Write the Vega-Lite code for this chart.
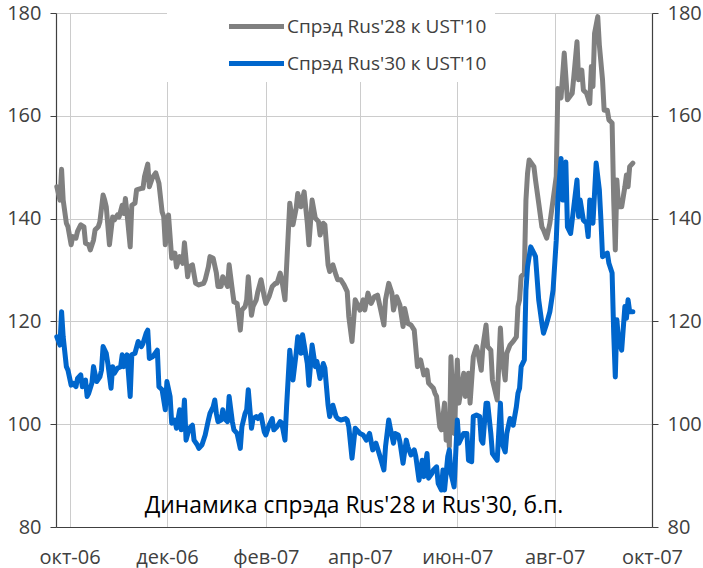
{
  "$schema": "https://vega.github.io/schema/vega-lite/v6.json",
  "width": 596,
  "height": 514,
  "autosize": {"type": "none"},
  "padding": {"left": 56, "top": 13, "right": 51, "bottom": 41},
  "background": "white",
  "config": {"view": {"stroke": null}, "font": "Open Sans"},
  "title": {"text": "Динамика спрэда Rus'28 и Rus'30, б.п.", "orient": "bottom", "anchor": "middle", "fontSize": 22.8, "fontWeight": "normal", "color": "#000000", "font": "Open Sans", "offset": 0, "dy": -72},
  "datasets": {
    "r28": [
      {"date": "2006-09-23", "v": 146.2}, {"date": "2006-09-25", "v": 143.6}, {"date": "2006-09-26", "v": 149.6}, {"date": "2006-09-27", "v": 143.6},
      {"date": "2006-09-29", "v": 139.1}, {"date": "2006-09-30", "v": 138.4}, {"date": "2006-10-02", "v": 134.9}, {"date": "2006-10-03", "v": 136.5},
      {"date": "2006-10-05", "v": 136.2}, {"date": "2006-10-06", "v": 137.5}, {"date": "2006-10-08", "v": 138.8}, {"date": "2006-10-10", "v": 138.4},
      {"date": "2006-10-11", "v": 135.2}, {"date": "2006-10-13", "v": 134.9}, {"date": "2006-10-14", "v": 133.9}, {"date": "2006-10-16", "v": 135.8},
      {"date": "2006-10-17", "v": 137.8}, {"date": "2006-10-19", "v": 138.4}, {"date": "2006-10-20", "v": 139.4}, {"date": "2006-10-22", "v": 144.6},
      {"date": "2006-10-23", "v": 143.6}, {"date": "2006-10-24", "v": 142.3}, {"date": "2006-10-26", "v": 134.9}, {"date": "2006-10-28", "v": 140.3},
      {"date": "2006-10-29", "v": 139.7}, {"date": "2006-10-31", "v": 140.7}, {"date": "2006-11-01", "v": 140.3}, {"date": "2006-11-03", "v": 142.6},
      {"date": "2006-11-04", "v": 141.0}, {"date": "2006-11-05", "v": 143.9}, {"date": "2006-11-06", "v": 141.0}, {"date": "2006-11-08", "v": 134.5},
      {"date": "2006-11-09", "v": 142.6}, {"date": "2006-11-11", "v": 143.0}, {"date": "2006-11-12", "v": 145.6}, {"date": "2006-11-15", "v": 145.9},
      {"date": "2006-11-16", "v": 145.9}, {"date": "2006-11-17", "v": 148.2}, {"date": "2006-11-19", "v": 150.6}, {"date": "2006-11-20", "v": 146.2},
      {"date": "2006-11-22", "v": 148.0}, {"date": "2006-11-24", "v": 148.9}, {"date": "2006-11-26", "v": 146.9}, {"date": "2006-11-28", "v": 141.3},
      {"date": "2006-11-29", "v": 140.4}, {"date": "2006-11-30", "v": 134.9}, {"date": "2006-12-02", "v": 140.7}, {"date": "2006-12-04", "v": 132.3},
      {"date": "2006-12-06", "v": 133.3}, {"date": "2006-12-07", "v": 130.6}, {"date": "2006-12-09", "v": 132.6}, {"date": "2006-12-11", "v": 131.3},
      {"date": "2006-12-12", "v": 135.3}, {"date": "2006-12-14", "v": 128.7}, {"date": "2006-12-15", "v": 130.6}, {"date": "2006-12-17", "v": 131.0},
      {"date": "2006-12-19", "v": 127.4}, {"date": "2006-12-21", "v": 127.1}, {"date": "2006-12-24", "v": 127.4}, {"date": "2006-12-25", "v": 128.1},
      {"date": "2006-12-27", "v": 130.6}, {"date": "2006-12-28", "v": 132.6}, {"date": "2006-12-30", "v": 132.3}, {"date": "2007-01-01", "v": 129.4},
      {"date": "2007-01-02", "v": 126.8}, {"date": "2007-01-04", "v": 126.8}, {"date": "2007-01-05", "v": 128.7}, {"date": "2007-01-06", "v": 128.1},
      {"date": "2007-01-08", "v": 126.8}, {"date": "2007-01-09", "v": 131.0}, {"date": "2007-01-11", "v": 126.1}, {"date": "2007-01-12", "v": 123.8},
      {"date": "2007-01-14", "v": 123.5}, {"date": "2007-01-16", "v": 118.3}, {"date": "2007-01-17", "v": 122.2}, {"date": "2007-01-19", "v": 122.9},
      {"date": "2007-01-20", "v": 124.2}, {"date": "2007-01-21", "v": 128.7}, {"date": "2007-01-23", "v": 121.2}, {"date": "2007-01-24", "v": 122.9},
      {"date": "2007-01-26", "v": 124.2}, {"date": "2007-01-27", "v": 125.8}, {"date": "2007-01-29", "v": 128.1}, {"date": "2007-01-31", "v": 124.8},
      {"date": "2007-02-01", "v": 123.5}, {"date": "2007-02-03", "v": 124.8}, {"date": "2007-02-05", "v": 126.8}, {"date": "2007-02-07", "v": 127.4},
      {"date": "2007-02-08", "v": 127.4}, {"date": "2007-02-10", "v": 129.4}, {"date": "2007-02-11", "v": 128.1}, {"date": "2007-02-13", "v": 124.2},
      {"date": "2007-02-14", "v": 130.6}, {"date": "2007-02-16", "v": 143.0}, {"date": "2007-02-18", "v": 138.8}, {"date": "2007-02-20", "v": 142.0},
      {"date": "2007-02-21", "v": 144.9}, {"date": "2007-02-23", "v": 142.3}, {"date": "2007-02-25", "v": 145.2}, {"date": "2007-02-27", "v": 139.1},
      {"date": "2007-02-28", "v": 134.9}, {"date": "2007-03-02", "v": 143.6}, {"date": "2007-03-04", "v": 140.1}, {"date": "2007-03-06", "v": 139.4},
      {"date": "2007-03-07", "v": 136.8}, {"date": "2007-03-09", "v": 139.1}, {"date": "2007-03-10", "v": 138.8}, {"date": "2007-03-12", "v": 131.0},
      {"date": "2007-03-13", "v": 129.7}, {"date": "2007-03-15", "v": 131.0}, {"date": "2007-03-17", "v": 129.0}, {"date": "2007-03-18", "v": 128.1},
      {"date": "2007-03-20", "v": 128.1}, {"date": "2007-03-22", "v": 127.1}, {"date": "2007-03-24", "v": 125.8}, {"date": "2007-03-25", "v": 120.9},
      {"date": "2007-03-27", "v": 116.1}, {"date": "2007-03-29", "v": 124.2}, {"date": "2007-04-01", "v": 122.2}, {"date": "2007-04-03", "v": 124.2},
      {"date": "2007-04-04", "v": 122.2}, {"date": "2007-04-06", "v": 125.5}, {"date": "2007-04-08", "v": 123.5}, {"date": "2007-04-10", "v": 124.8},
      {"date": "2007-04-12", "v": 125.1}, {"date": "2007-04-14", "v": 122.2}, {"date": "2007-04-16", "v": 119.3}, {"date": "2007-04-17", "v": 124.2},
      {"date": "2007-04-19", "v": 127.4}, {"date": "2007-04-21", "v": 125.5}, {"date": "2007-04-22", "v": 122.2}, {"date": "2007-04-24", "v": 124.8},
      {"date": "2007-04-26", "v": 123.2}, {"date": "2007-04-28", "v": 119.0}, {"date": "2007-04-29", "v": 122.5}, {"date": "2007-05-01", "v": 119.6},
      {"date": "2007-05-03", "v": 119.3}, {"date": "2007-05-05", "v": 118.3}, {"date": "2007-05-06", "v": 114.8}, {"date": "2007-05-07", "v": 111.2},
      {"date": "2007-05-09", "v": 112.5}, {"date": "2007-05-11", "v": 109.6}, {"date": "2007-05-13", "v": 110.5}, {"date": "2007-05-14", "v": 108.0},
      {"date": "2007-05-17", "v": 107.0}, {"date": "2007-05-18", "v": 106.0}, {"date": "2007-05-19", "v": 105.4}, {"date": "2007-05-21", "v": 99.5},
      {"date": "2007-05-22", "v": 98.9}, {"date": "2007-05-24", "v": 104.1}, {"date": "2007-05-25", "v": 96.9}, {"date": "2007-05-26", "v": 101.5},
      {"date": "2007-05-27", "v": 95.6}, {"date": "2007-05-28", "v": 113.1}, {"date": "2007-05-30", "v": 98.2}, {"date": "2007-06-01", "v": 112.5},
      {"date": "2007-06-02", "v": 104.1}, {"date": "2007-06-04", "v": 108.0}, {"date": "2007-06-05", "v": 109.9}, {"date": "2007-06-06", "v": 105.4},
      {"date": "2007-06-08", "v": 109.9}, {"date": "2007-06-09", "v": 104.1}, {"date": "2007-06-11", "v": 113.1}, {"date": "2007-06-13", "v": 115.1},
      {"date": "2007-06-14", "v": 113.8}, {"date": "2007-06-16", "v": 110.5}, {"date": "2007-06-17", "v": 115.1}, {"date": "2007-06-19", "v": 119.3},
      {"date": "2007-06-20", "v": 115.1}, {"date": "2007-06-22", "v": 114.4}, {"date": "2007-06-23", "v": 108.6}, {"date": "2007-06-26", "v": 104.7},
      {"date": "2007-06-28", "v": 118.7}, {"date": "2007-06-29", "v": 113.1}, {"date": "2007-07-01", "v": 108.6}, {"date": "2007-07-02", "v": 113.8},
      {"date": "2007-07-04", "v": 115.4}, {"date": "2007-07-06", "v": 116.1}, {"date": "2007-07-08", "v": 117.0}, {"date": "2007-07-09", "v": 122.9},
      {"date": "2007-07-10", "v": 124.2}, {"date": "2007-07-11", "v": 128.7}, {"date": "2007-07-13", "v": 129.4}, {"date": "2007-07-14", "v": 143.6},
      {"date": "2007-07-15", "v": 148.8}, {"date": "2007-07-16", "v": 151.4}, {"date": "2007-07-19", "v": 150.1}, {"date": "2007-07-20", "v": 147.5},
      {"date": "2007-07-22", "v": 143.0}, {"date": "2007-07-24", "v": 138.4}, {"date": "2007-07-25", "v": 137.8}, {"date": "2007-07-27", "v": 136.2},
      {"date": "2007-07-29", "v": 139.1}, {"date": "2007-07-31", "v": 143.6}, {"date": "2007-08-02", "v": 148.2}, {"date": "2007-08-03", "v": 165.3},
      {"date": "2007-08-05", "v": 163.5}, {"date": "2007-08-07", "v": 172.2}, {"date": "2007-08-09", "v": 163.1}, {"date": "2007-08-12", "v": 164.4},
      {"date": "2007-08-13", "v": 167.6}, {"date": "2007-08-15", "v": 174.4}, {"date": "2007-08-16", "v": 167.0}, {"date": "2007-08-18", "v": 168.9},
      {"date": "2007-08-19", "v": 165.0}, {"date": "2007-08-21", "v": 164.4}, {"date": "2007-08-23", "v": 162.4}, {"date": "2007-08-24", "v": 169.6},
      {"date": "2007-08-25", "v": 165.7}, {"date": "2007-08-26", "v": 176.0}, {"date": "2007-08-28", "v": 179.3}, {"date": "2007-08-29", "v": 173.8},
      {"date": "2007-08-31", "v": 167.0}, {"date": "2007-09-01", "v": 161.1}, {"date": "2007-09-03", "v": 161.1}, {"date": "2007-09-04", "v": 159.2},
      {"date": "2007-09-06", "v": 158.6}, {"date": "2007-09-07", "v": 143.6}, {"date": "2007-09-08", "v": 133.9}, {"date": "2007-09-09", "v": 147.5},
      {"date": "2007-09-10", "v": 142.3}, {"date": "2007-09-12", "v": 142.3}, {"date": "2007-09-14", "v": 146.2}, {"date": "2007-09-15", "v": 148.5},
      {"date": "2007-09-16", "v": 146.2}, {"date": "2007-09-17", "v": 150.1}, {"date": "2007-09-19", "v": 150.8}
    ],
    "r30": [
      {"date": "2006-09-23", "v": 117.0}, {"date": "2006-09-25", "v": 115.4}, {"date": "2006-09-26", "v": 121.9}, {"date": "2006-09-27", "v": 117.0},
      {"date": "2006-09-29", "v": 111.2}, {"date": "2006-09-30", "v": 110.5}, {"date": "2006-10-02", "v": 107.6}, {"date": "2006-10-03", "v": 108.0},
      {"date": "2006-10-05", "v": 107.3}, {"date": "2006-10-06", "v": 108.9}, {"date": "2006-10-08", "v": 109.6}, {"date": "2006-10-09", "v": 107.3},
      {"date": "2006-10-11", "v": 108.6}, {"date": "2006-10-12", "v": 105.4}, {"date": "2006-10-13", "v": 106.0}, {"date": "2006-10-15", "v": 108.0},
      {"date": "2006-10-16", "v": 111.2}, {"date": "2006-10-18", "v": 108.3}, {"date": "2006-10-20", "v": 109.2}, {"date": "2006-10-21", "v": 110.5},
      {"date": "2006-10-22", "v": 115.1}, {"date": "2006-10-24", "v": 113.8}, {"date": "2006-10-25", "v": 111.8}, {"date": "2006-10-27", "v": 107.0},
      {"date": "2006-10-28", "v": 111.2}, {"date": "2006-10-29", "v": 109.9}, {"date": "2006-10-31", "v": 110.9}, {"date": "2006-11-02", "v": 111.2},
      {"date": "2006-11-03", "v": 113.5}, {"date": "2006-11-04", "v": 111.2}, {"date": "2006-11-06", "v": 113.5}, {"date": "2006-11-08", "v": 105.4},
      {"date": "2006-11-09", "v": 113.5}, {"date": "2006-11-11", "v": 113.8}, {"date": "2006-11-13", "v": 116.1}, {"date": "2006-11-15", "v": 115.1},
      {"date": "2006-11-16", "v": 115.7}, {"date": "2006-11-18", "v": 117.7}, {"date": "2006-11-19", "v": 118.3}, {"date": "2006-11-20", "v": 112.8},
      {"date": "2006-11-22", "v": 113.1}, {"date": "2006-11-25", "v": 114.4}, {"date": "2006-11-26", "v": 107.3}, {"date": "2006-11-28", "v": 106.7},
      {"date": "2006-11-30", "v": 102.8}, {"date": "2006-12-01", "v": 108.3}, {"date": "2006-12-03", "v": 105.4}, {"date": "2006-12-04", "v": 100.2},
      {"date": "2006-12-06", "v": 100.8}, {"date": "2006-12-07", "v": 99.2}, {"date": "2006-12-09", "v": 102.8}, {"date": "2006-12-10", "v": 98.9},
      {"date": "2006-12-11", "v": 100.2}, {"date": "2006-12-12", "v": 104.7}, {"date": "2006-12-13", "v": 96.9}, {"date": "2006-12-15", "v": 99.2},
      {"date": "2006-12-17", "v": 99.8}, {"date": "2006-12-18", "v": 96.9}, {"date": "2006-12-20", "v": 96.0}, {"date": "2006-12-21", "v": 95.3},
      {"date": "2006-12-23", "v": 96.0}, {"date": "2006-12-25", "v": 97.9}, {"date": "2006-12-27", "v": 100.8}, {"date": "2006-12-28", "v": 102.1},
      {"date": "2006-12-30", "v": 103.4}, {"date": "2006-12-31", "v": 104.7}, {"date": "2007-01-01", "v": 102.1}, {"date": "2007-01-02", "v": 100.5},
      {"date": "2007-01-04", "v": 100.8}, {"date": "2007-01-05", "v": 102.8}, {"date": "2007-01-06", "v": 101.1}, {"date": "2007-01-08", "v": 100.5},
      {"date": "2007-01-09", "v": 105.4}, {"date": "2007-01-11", "v": 100.5}, {"date": "2007-01-12", "v": 98.9}, {"date": "2007-01-14", "v": 98.2},
      {"date": "2007-01-16", "v": 95.3}, {"date": "2007-01-17", "v": 99.5}, {"date": "2007-01-19", "v": 102.1}, {"date": "2007-01-20", "v": 102.8},
      {"date": "2007-01-21", "v": 106.7}, {"date": "2007-01-23", "v": 99.2}, {"date": "2007-01-24", "v": 101.1}, {"date": "2007-01-26", "v": 101.5},
      {"date": "2007-01-27", "v": 101.1}, {"date": "2007-01-29", "v": 101.8}, {"date": "2007-01-31", "v": 98.5}, {"date": "2007-02-01", "v": 97.9},
      {"date": "2007-02-03", "v": 99.8}, {"date": "2007-02-05", "v": 101.1}, {"date": "2007-02-06", "v": 98.9}, {"date": "2007-02-08", "v": 99.5},
      {"date": "2007-02-10", "v": 100.5}, {"date": "2007-02-11", "v": 100.2}, {"date": "2007-02-13", "v": 96.9}, {"date": "2007-02-14", "v": 103.4},
      {"date": "2007-02-16", "v": 114.4}, {"date": "2007-02-18", "v": 108.6}, {"date": "2007-02-20", "v": 113.8}, {"date": "2007-02-21", "v": 117.0},
      {"date": "2007-02-23", "v": 113.8}, {"date": "2007-02-24", "v": 117.4}, {"date": "2007-02-27", "v": 111.8}, {"date": "2007-02-28", "v": 107.6},
      {"date": "2007-03-02", "v": 115.4}, {"date": "2007-03-04", "v": 111.2}, {"date": "2007-03-05", "v": 112.2}, {"date": "2007-03-07", "v": 108.9},
      {"date": "2007-03-09", "v": 111.8}, {"date": "2007-03-10", "v": 110.9}, {"date": "2007-03-12", "v": 103.7}, {"date": "2007-03-13", "v": 101.5},
      {"date": "2007-03-15", "v": 103.7}, {"date": "2007-03-17", "v": 101.5}, {"date": "2007-03-18", "v": 101.1}, {"date": "2007-03-20", "v": 100.8},
      {"date": "2007-03-23", "v": 101.1}, {"date": "2007-03-24", "v": 100.8}, {"date": "2007-03-25", "v": 99.5}, {"date": "2007-03-27", "v": 93.4},
      {"date": "2007-03-29", "v": 99.2}, {"date": "2007-04-01", "v": 98.2}, {"date": "2007-04-03", "v": 97.9}, {"date": "2007-04-05", "v": 96.9},
      {"date": "2007-04-07", "v": 98.2}, {"date": "2007-04-09", "v": 95.0}, {"date": "2007-04-11", "v": 96.3}, {"date": "2007-04-13", "v": 94.3},
      {"date": "2007-04-16", "v": 91.1}, {"date": "2007-04-17", "v": 95.6}, {"date": "2007-04-19", "v": 100.8}, {"date": "2007-04-20", "v": 99.2},
      {"date": "2007-04-22", "v": 96.3}, {"date": "2007-04-23", "v": 98.2}, {"date": "2007-04-25", "v": 97.9}, {"date": "2007-04-26", "v": 96.6},
      {"date": "2007-04-28", "v": 92.4}, {"date": "2007-04-30", "v": 96.9}, {"date": "2007-05-01", "v": 95.6}, {"date": "2007-05-03", "v": 94.0},
      {"date": "2007-05-05", "v": 95.0}, {"date": "2007-05-06", "v": 93.7}, {"date": "2007-05-08", "v": 89.1}, {"date": "2007-05-10", "v": 93.0},
      {"date": "2007-05-11", "v": 89.8}, {"date": "2007-05-13", "v": 94.3}, {"date": "2007-05-14", "v": 89.5}, {"date": "2007-05-16", "v": 90.4},
      {"date": "2007-05-17", "v": 91.1}, {"date": "2007-05-19", "v": 91.7}, {"date": "2007-05-20", "v": 88.5}, {"date": "2007-05-22", "v": 87.2},
      {"date": "2007-05-23", "v": 91.1}, {"date": "2007-05-24", "v": 87.2}, {"date": "2007-05-26", "v": 93.7}, {"date": "2007-05-27", "v": 95.0},
      {"date": "2007-05-28", "v": 90.4}, {"date": "2007-05-30", "v": 87.8}, {"date": "2007-06-01", "v": 100.8}, {"date": "2007-06-02", "v": 96.3},
      {"date": "2007-06-04", "v": 97.6}, {"date": "2007-06-05", "v": 98.2}, {"date": "2007-06-07", "v": 98.2}, {"date": "2007-06-08", "v": 93.0},
      {"date": "2007-06-10", "v": 92.7}, {"date": "2007-06-11", "v": 101.5}, {"date": "2007-06-13", "v": 101.8}, {"date": "2007-06-15", "v": 101.5},
      {"date": "2007-06-16", "v": 96.9}, {"date": "2007-06-17", "v": 96.3}, {"date": "2007-06-19", "v": 104.1}, {"date": "2007-06-20", "v": 104.1},
      {"date": "2007-06-22", "v": 98.2}, {"date": "2007-06-23", "v": 94.3}, {"date": "2007-06-26", "v": 93.0}, {"date": "2007-06-28", "v": 104.1},
      {"date": "2007-06-29", "v": 96.3}, {"date": "2007-07-01", "v": 94.6}, {"date": "2007-07-02", "v": 98.2}, {"date": "2007-07-04", "v": 101.1},
      {"date": "2007-07-06", "v": 99.8}, {"date": "2007-07-08", "v": 103.4}, {"date": "2007-07-09", "v": 106.0}, {"date": "2007-07-10", "v": 107.0},
      {"date": "2007-07-11", "v": 111.2}, {"date": "2007-07-13", "v": 112.5}, {"date": "2007-07-14", "v": 126.1}, {"date": "2007-07-15", "v": 130.6},
      {"date": "2007-07-17", "v": 134.5}, {"date": "2007-07-19", "v": 133.3}, {"date": "2007-07-20", "v": 132.6}, {"date": "2007-07-22", "v": 124.2},
      {"date": "2007-07-24", "v": 119.6}, {"date": "2007-07-25", "v": 117.7}, {"date": "2007-07-27", "v": 119.6}, {"date": "2007-07-29", "v": 121.9},
      {"date": "2007-07-31", "v": 126.1}, {"date": "2007-08-02", "v": 135.8}, {"date": "2007-08-03", "v": 143.6}, {"date": "2007-08-05", "v": 151.7},
      {"date": "2007-08-06", "v": 143.6}, {"date": "2007-08-07", "v": 147.5}, {"date": "2007-08-08", "v": 151.0}, {"date": "2007-08-09", "v": 138.4},
      {"date": "2007-08-11", "v": 137.1}, {"date": "2007-08-13", "v": 142.3}, {"date": "2007-08-15", "v": 147.5}, {"date": "2007-08-16", "v": 140.4},
      {"date": "2007-08-17", "v": 143.6}, {"date": "2007-08-19", "v": 139.7}, {"date": "2007-08-21", "v": 139.1}, {"date": "2007-08-22", "v": 136.5},
      {"date": "2007-08-23", "v": 143.6}, {"date": "2007-08-25", "v": 139.1}, {"date": "2007-08-27", "v": 150.8}, {"date": "2007-08-29", "v": 145.6},
      {"date": "2007-08-30", "v": 139.7}, {"date": "2007-08-31", "v": 132.6}, {"date": "2007-09-03", "v": 133.3}, {"date": "2007-09-04", "v": 131.3},
      {"date": "2007-09-06", "v": 129.4}, {"date": "2007-09-07", "v": 117.7}, {"date": "2007-09-08", "v": 109.2}, {"date": "2007-09-09", "v": 120.3},
      {"date": "2007-09-10", "v": 116.4}, {"date": "2007-09-12", "v": 114.4}, {"date": "2007-09-14", "v": 122.9}, {"date": "2007-09-15", "v": 120.6},
      {"date": "2007-09-16", "v": 124.2}, {"date": "2007-09-17", "v": 121.9}, {"date": "2007-09-19", "v": 121.9}
    ]
  },
  "layer": [
    {
      "data": {"name": "r28"},
      "mark": {"type": "line", "strokeWidth": 5, "strokeJoin": "round", "strokeCap": "round"},
      "encoding": {
        "x": {
          "field": "date", "type": "temporal",
          "scale": {"type": "utc", "domain": [{"year": 2006, "month": 9, "date": 22, "hours": 12, "utc": true}, {"year": 2007, "month": 10, "date": 1, "utc": true}]},
          "axis": {
            "title": null,
            "values": [
              {"year": 2006, "month": 10, "date": 1, "utc": true},
              {"year": 2006, "month": 12, "date": 1, "utc": true},
              {"year": 2007, "month": 2, "date": 1, "utc": true},
              {"year": 2007, "month": 4, "date": 1, "utc": true},
              {"year": 2007, "month": 6, "date": 1, "utc": true},
              {"year": 2007, "month": 8, "date": 1, "utc": true},
              {"year": 2007, "month": 10, "date": 1, "utc": true}
            ],
            "labelExpr": "['янв','фев','мар','апр','май','июн','июл','авг','сен','окт','ноя','дек'][utcmonth(datum.value)] + '-' + utcFormat(datum.value, '%y')",
            "grid": true, "gridColor": "#cccccc", "gridWidth": 1,
            "ticks": false, "domainColor": "#404040", "domainWidth": 1.2,
            "labelFontSize": 20, "labelColor": "#404040", "labelPadding": 20, "labelFont": "Open Sans",
            "labelOverlap": false, "labelFlush": false
          }
        },
        "y": {
          "field": "v", "type": "quantitative",
          "scale": {"domain": [80, 180], "nice": false, "zero": false},
          "axis": {
            "title": null, "orient": "left", "values": [80, 100, 120, 140, 160, 180],
            "grid": true, "gridColor": "#cccccc", "gridWidth": 1,
            "tickSize": 6, "tickColor": "#404040", "domainColor": "#404040", "domainWidth": 1.2,
            "labelFontSize": 20, "labelColor": "#404040", "labelPadding": 9, "labelFont": "Open Sans"
          }
        },
        "color": {
          "datum": "Спрэд Rus'28 к UST'10",
          "scale": {"domain": ["Спрэд Rus'28 к UST'10", "Спрэд Rus'30 к UST'10"], "range": ["#808080", "#0066cc"]},
          "legend": {
            "title": null, "orient": "none", "legendX": 111, "legendY": -4,
            "direction": "vertical",
            "symbolType": "M-5.5,0H5.5", "symbolSize": 100, "symbolStrokeWidth": 5,
            "symbolOffset": 72, "labelOffset": 21, "labelLimit": 400,
            "labelFontSize": 19, "labelColor": "#404040", "labelFont": "Open Sans",
            "fillColor": "white", "padding": 8, "rowPadding": 16
          }
        }
      }
    },
    {
      "data": {"name": "r30"},
      "mark": {"type": "line", "strokeWidth": 5, "strokeJoin": "round", "strokeCap": "round"},
      "encoding": {
        "x": {"field": "date", "type": "temporal"},
        "y": {
          "field": "v", "type": "quantitative",
          "axis": {
            "title": null, "orient": "right", "values": [80, 100, 120, 140, 160, 180],
            "grid": false,
            "tickSize": 6, "tickColor": "#404040", "domainColor": "#404040", "domainWidth": 1.2,
            "labelFontSize": 20, "labelColor": "#404040", "labelPadding": 9, "labelFont": "Open Sans"
          }
        },
        "color": {"datum": "Спрэд Rus'30 к UST'10"}
      }
    }
  ],
  "resolve": {"axis": {"y": "independent"}}
}
